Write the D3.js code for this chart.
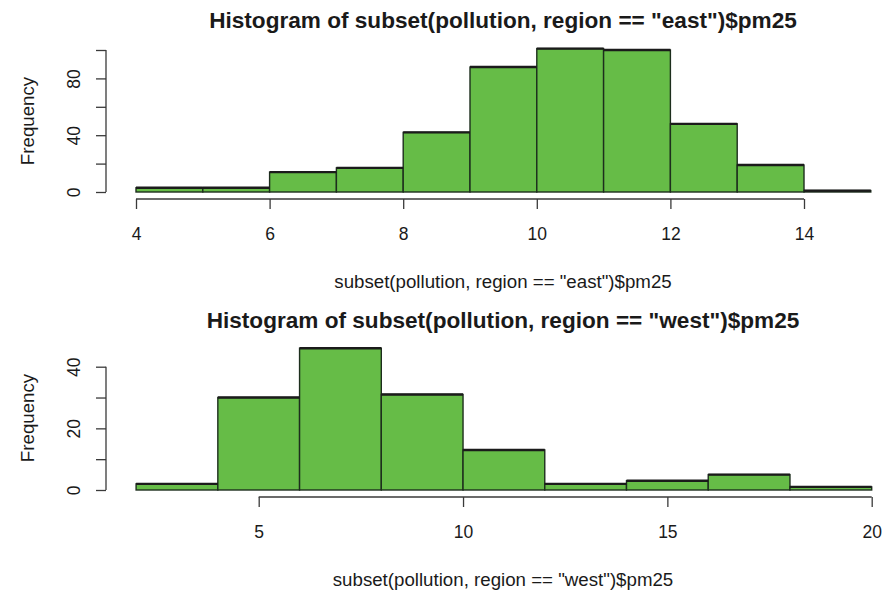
<!DOCTYPE html>
<html><head><meta charset="utf-8">
<script src="https://cdn.jsdelivr.net/npm/d3@7"></script>
<style>
html,body{margin:0;padding:0;background:#fff;}
svg{display:block;font-family:"Liberation Sans",Arial,Helvetica,sans-serif;}
</style></head>
<body>
<svg id="chart" width="892" height="592"></svg>
<script>
// ---- data ----
const eastBreaks = [4,5,6,7,8,9,10,11,12,13,14,15];
const eastCounts = [3,3,14,17,42,88,101,100,48,19,1];
const eastXTicks = [4,6,8,10,12,14];
const eastYTicks = [0,20,40,60,80,100];
const eastYLabels = ["0","","40","","80",""];
const eastTitle = 'Histogram of subset(pollution, region == "east")$pm25';
const eastXLabel = 'subset(pollution, region == "east")$pm25';

const westBreaks = [2,4,6,8,10,12,14,16,18,20];
const westCounts = [2,30,46,31,13,2,3,5,1];
const westXTicks = [5,10,15,20];
const westYTicks = [0,10,20,30,40];
const westYLabels = ["0","","20","","40"];
const westTitle = 'Histogram of subset(pollution, region == "west")$pm25';
const westXLabel = 'subset(pollution, region == "west")$pm25';

const yLabelText = "Frequency";

const svg = d3.select("#chart");
const FILL = "#66bc47", EDGE = "#1d2e1d", AXIS = "#3a3a3a", TXT = "#1a1a1a";
const TICKFS = 17.5, LABFS = 18.7, TITLEFS = 22.6;

function panel(o){
  const g = svg.append("g");
  const x = d3.scaleLinear().domain(o.xd).range(o.xr);
  const y = d3.scaleLinear().domain(o.yd).range(o.yr);
  const bins = o.counts.map((c,i)=>({x0:o.breaks[i], x1:o.breaks[i+1], c}));
  g.selectAll("rect.bar").data(bins).join("rect").attr("class","bar")
    .attr("x", d=>x(d.x0)).attr("width", d=>x(d.x1)-x(d.x0))
    .attr("y", d=>y(d.c)).attr("height", d=>y(0)-y(d.c))
    .attr("fill", FILL).attr("stroke", EDGE).attr("stroke-width", 1.4);
  g.selectAll("line.top").data(bins).join("line").attr("class","top")
    .attr("x1", d=>x(d.x0)).attr("x2", d=>x(d.x1))
    .attr("y1", d=>y(d.c)).attr("y2", d=>y(d.c))
    .attr("stroke", "#1b1b1b").attr("stroke-width", 2.4);

  // x axis (R style, offset below)
  const xa = g.append("g").attr("transform", `translate(0,${o.xAxisY})`)
    .call(d3.axisBottom(x).tickValues(o.xTicks).tickSize(10).tickPadding(19).tickFormat(d3.format("d")));
  xa.select(".domain").attr("d", `M${x(o.xTicks[0])},0H${x(o.xTicks[o.xTicks.length-1])}`)
    .attr("stroke", AXIS).attr("stroke-width", 1.3);
  xa.selectAll(".tick line").attr("stroke", AXIS).attr("stroke-width", 1.3);
  xa.selectAll(".tick text").attr("font-size", TICKFS).attr("fill", TXT);

  // y axis
  const ya = g.append("g").attr("transform", `translate(${o.yAxisX},0)`)
    .call(d3.axisLeft(y).tickValues(o.yTicks).tickSize(10).tickFormat((d,i)=>o.yLabels[i]));
  ya.select(".domain").attr("d", `M0,${y(o.yTicks[0])}V${y(o.yTicks[o.yTicks.length-1])}`)
    .attr("stroke", AXIS).attr("stroke-width", 1.3);
  ya.selectAll(".tick line").attr("stroke", AXIS).attr("stroke-width", 1.3);
  ya.selectAll(".tick text").attr("font-size", TICKFS).attr("fill", TXT)
    .attr("x", null).attr("dy", null)
    .attr("text-anchor", "middle")
    .attr("transform", `translate(${80 - o.yAxisX},0) rotate(-90)`);

  // title
  g.append("text").attr("x", o.cx).attr("y", o.titleY).attr("text-anchor","middle")
    .attr("font-weight","bold").attr("font-size", TITLEFS).attr("fill", TXT).text(o.title);
  // x label
  g.append("text").attr("x", o.cx).attr("y", o.xLabY).attr("text-anchor","middle")
    .attr("font-size", LABFS).attr("fill", TXT).text(o.xLabel);
  // y label
  g.append("text").attr("transform", `translate(34,${o.yLabCy}) rotate(-90)`)
    .attr("text-anchor","middle").attr("font-size", LABFS).attr("fill", TXT).text(yLabelText);
}

panel({breaks:eastBreaks, counts:eastCounts, xTicks:eastXTicks, yTicks:eastYTicks, yLabels:eastYLabels,
  xd:[4,14], xr:[136,804], yd:[0,100], yr:[192,50], xAxisY:199, yAxisX:106,
  cx:503, titleY:28, xLabY:288, yLabCy:121, title:eastTitle, xLabel:eastXLabel});

panel({breaks:westBreaks, counts:westCounts, xTicks:westXTicks, yTicks:westYTicks, yLabels:westYLabels,
  xd:[5,20], xr:[258.7,871.7], yd:[0,40], yr:[490,366.7], xAxisY:497, yAxisX:106,
  cx:503, titleY:328, xLabY:586, yLabCy:418, title:westTitle, xLabel:westXLabel});
</script>
</body></html>
